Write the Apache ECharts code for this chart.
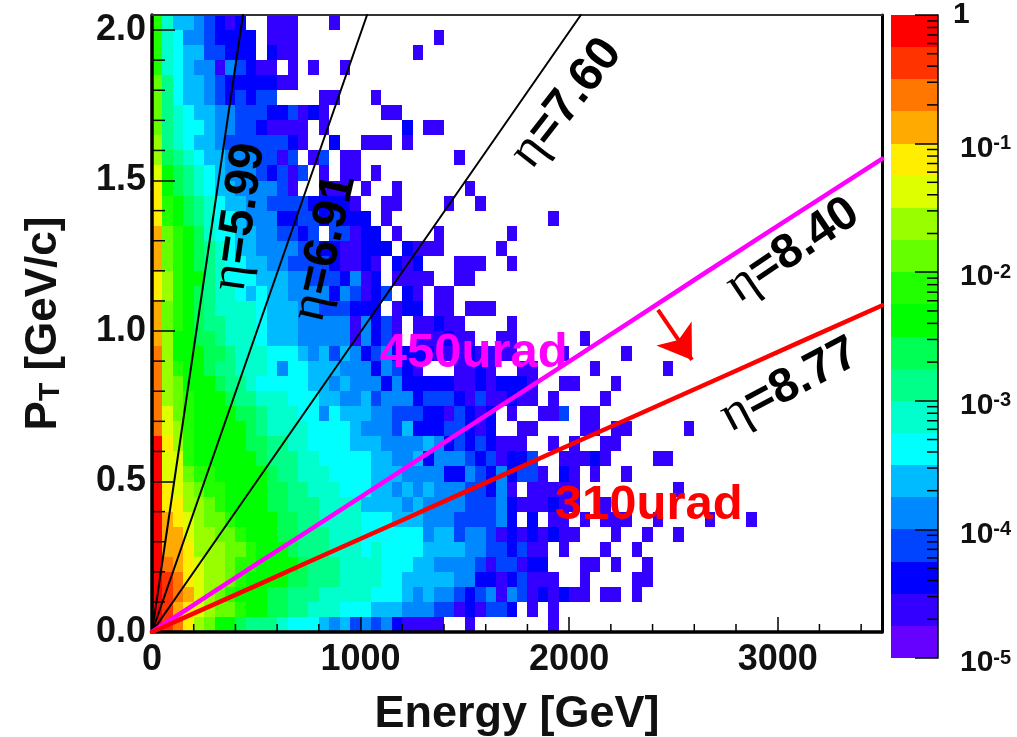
<!DOCTYPE html>
<html>
<head>
<meta charset="utf-8">
<script src="https://cdn.jsdelivr.net/npm/echarts@6/dist/echarts.min.js"></script>
<style>html,body{margin:0;padding:0;background:#fff}#c{width:1017px;height:737px}</style>
</head>
<body>
<div id="c"></div>
<script>
// Colour bands, lowest (1e-5) to highest (1): one letter per band, a..t
const bandCodes = 'abcdefghijklmnopqrst';
const bandColors = ['#6600ff','#3300ff','#0000ff','#0044ff','#0088ff','#00bbff','#00ffff','#00ffcc','#00ff88','#00ff55',
  '#00ff00','#22ff00','#66ff00','#99ff00','#ddff00','#ffee00','#ffaa00','#ff7700','#ff3300','#ff0000'];
// Cell grid: 50 GeV by 0.05 GeV/c. densityRows[0] is the pT 2.00-2.05 row, last is 0.00-0.05.
const binE = 50, binPt = 0.05;
const densityRows = [
 'lhffedcbc. .bbb...b..',
 'lhgeedcccc .bbb...... .......b',
 'lhgffddccc .cbb...... .....b',
 'lhgfeebedc bb.b.b..b.',
 'migffedccc ccbb',
 'migffedcdc dd....bb.. .b',
 'mihgffeedd dccdbcb... ..bb',
 'mihggfeedd cbbbb.b... ....c.bb',
 'nihgffeddd dddcb..c.. bbb.b',
 'njihgffeee ddbd.bd.bb .........b',
 'okjihgfeee dcdbd.b.bb .b',
 'pkjihgffee eedb..bbb. b..b......b',
 'plkjihgffe eddddccccb ..bb....b. .b',
 'plkjihggfe eeccddcdcc c.b....... ........b.',
 'qmlkjhggff eeddcd.ddb cc.b...b.. ....b',
 'qmlkjihgff eeeeddccbb ccc.cbbb.. ...b',
 'qmlkjihggf feeddddcbb cb.cbc...b bb..b',
 'pnlkkihggg fffeedddce bc.bbbb..b b',
 'pnlkjihhgf gffeeeeced bcd.cb.bb',
 'qmlkjihhhh gfffeedddc cc.bcc.bb. bbb',
 'qmlkjiihhh gfffeeeeeb ecdb.bbcbb ....b',
 'qnkkjjihhh gfffeeeeeb ecdb.bbbcb b..bb..... .b',
 'rnkkkjjihh hgggfefdfe cdeccccbbb cbbbb....b .....b',
 'rnlkkjiihh hgeggfffee ecedcb...b bcb..bb... ..b......b',
 'rnmkkkjiih gggggffefe eececcccc b bcbcccb..b b...b',
 'rnmlkkkjii hhhgggffee fdeeecdddc bdbbcbb.b. ...b',
 'romlkkkkjj ihhhggegff feedddccbd cbc.b..bbd .bb',
 'ronlkkkkkj ihhhhggggf eeedfcccdd cbc..bb... .bb.bb.... .b',
 'tpnlkkkkkj jiihhggggf ffeeeefecd cdcbbb..b. b..bb',
 'toolkkkkkk jiiihhgggg gffeefceee dcdbccd..b bbcb....bb',
 'toomllkkkk kjiihhhggg gfffeeeecc edcecddb.c b.b..b',
 'tponmllkkk kjjiihhhgg gffefefeee ddceb.bbbb b......... b',
 'tppnnmlkkk kjjiiihhhh ffffefeeee dddecbbbcb b..b',
 'tqponmmlkk kkjjiihhhh gggfffeeed dddec.c.bb .b.bbb..b. ...b...b',
 'tqqonnmmlk kkjjiiihhh ggggggeffd eedbcbcbcb b...b..b.. b',
 'tqqpnnnmml kkkjiiihhh ghggggffff eeddcdbb.b ...b..b',
 'trqponnmll kkkkjiiihh hhgggffeee edbddbcc.. .bb.b..b',
 'tsrponnmlk kkkjjiiihh hhggfffffe eccbcdbbb. .b....bb',
 'tsrqonmlkk kjjiiihhhh hgggfefeed cdebedbcbc bb.bb.b',
 'tsqponmmlk kjjiihhhgg gfffeeeddb cbddc.b.b',
 'tsrpnmkkji iihgggfefd edecbbbb.. b.......b'
];
// Axis ticks
const xMinorTicks = [200,400,600,800,1200,1400,1600,1800,2200,2400,2600,2800,3200,3400];
const yMinorTicks = [0.1,0.2,0.3,0.4,0.6,0.7,0.8,0.9,1.1,1.2,1.3,1.4,1.6,1.7,1.8,1.9];
const decades = [-5,-4,-3,-2,-1];
const decadeMultipliers = [2,3,4,5,6,7,8,9];
// Guide lines (E in GeV, pT in GeV/c)
const eta599 = [[0,0],[436,2.05]];
const eta691 = [[0,0],[1031,2.05]];
const eta760 = [[0,0],[2056,2.05]];
const line450 = [[0,0],[262,0.118],[502,0.226],[742,0.333],[981,0.440],[1221,0.548],[1461,0.657],[1668,0.750],[1988,0.893],[2307,1.037],[2627,1.182],[2946,1.325],[3500,1.572]];
const line310 = [[0,0],[262,0.081],[502,0.155],[742,0.230],[981,0.304],[1221,0.378],[1461,0.453],[1668,0.517],[1908,0.592],[2148,0.666],[2467,0.765],[2787,0.864],[3106,0.963],[3500,1.085]];
const arrowFrom = [2426,1.07], arrowTo = [2589,0.904];
// Annotations: text, E, pT, rotation, colour
const etaNotes = [['5.99',422,1.379,82],['6.91',829,1.276,77],['7.60',1989,1.757,52],['8.40',3073,1.269,34],['8.77',3058,0.82,28]];
const angleNotes = [['450urad',1543,0.925,'#ff00ff'],['310urad',2382,0.42,'#ff0000']];

const font = '"Liberation Sans", Arial, sans-serif';
const cells = [];
densityRows.forEach((row, r) => {
  const pt = (densityRows.length - 1 - r) * binPt;
  row.replace(/ /g, '').split('').forEach((ch, c) => {
    const level = bandCodes.indexOf(ch);
    if (level >= 0) cells.push([c * binE, pt, Math.pow(10, -5 + (level + 0.5) / 4)]);
  });
});
function colorOf(v) {
  const i = Math.floor((Math.log10(v) + 5) * 4);
  return bandColors[Math.max(0, Math.min(19, i))];
}
const cellSeries = {
  type: 'custom', z: 2, data: cells, silent: true, animation: false,
  encode: {x: 0, y: 1},
  renderItem: (p, api) => {
    const a = api.coord([api.value(0), api.value(1) + binPt]);
    const b = api.coord([api.value(0) + binE, api.value(1)]);
    const x = Math.round(a[0]), y = Math.round(a[1]);
    return {type: 'rect', shape: {x, y, width: Math.round(b[0]) - x, height: Math.round(b[1]) - y},
      style: {fill: colorOf(api.value(2))}};
  }
};
function minorSeries(vals, axisDim, len) {
  return {
    type: 'custom', z: 4, silent: true, animation: false, data: vals.map(v => [v]),
    encode: axisDim === 'x' ? {x: 0} : {y: 0},
    renderItem: (p, api) => {
      const v = api.value(0);
      const pt = api.coord(axisDim === 'x' ? [v, 0] : [0, v]);
      const sh = axisDim === 'x' ? {x1: pt[0], y1: pt[1], x2: pt[0], y2: pt[1] - len}
                                 : {x1: pt[0], y1: pt[1], x2: pt[0] + len, y2: pt[1]};
      return {type: 'line', shape: sh, style: {stroke: '#000', lineWidth: 1.5}};
    }
  };
}
function lineSeries(data, color, width) {
  return {type: 'line', z: 5, data, symbol: 'none', silent: true, animation: false, clip: true,
    lineStyle: {color, width, cap: 'round', join: 'round'}};
}
const etaLabels = {
  type: 'scatter', z: 6, symbolSize: 0, silent: true, animation: false, itemStyle: {opacity: 1},
  data: etaNotes.map(n => ({
    value: [n[1], n[2]],
    label: {show: true, position: 'inside', rotate: n[3], opacity: 1, formatter: '{e|\u03b7}{t|=' + n[0] + '}',
      rich: {e: {fontFamily: '"Liberation Serif", serif', fontSize: 52, color: '#000'},
             t: {fontFamily: font, fontWeight: 'bold', fontSize: 48, color: '#000'}}}
  }))
};
const angleLabels = {
  type: 'scatter', z: 6, symbolSize: 0, silent: true, animation: false, itemStyle: {opacity: 1},
  data: angleNotes.map(n => ({
    value: [n[1], n[2]],
    label: {show: true, position: 'inside', opacity: 1, formatter: n[0], fontFamily: font, fontWeight: 'bold', fontSize: 49, color: n[3]}
  }))
};
const arrowSeries = {
  type: 'line', z: 5, data: [], silent: true, animation: false,
  markLine: {silent: true, animation: false, symbol: ['none', 'arrow'], symbolSize: 32, label: {show: false},
    lineStyle: {color: '#ff0000', width: 4, type: 'solid'},
    data: [[{coord: arrowFrom}, {coord: arrowTo}]]}
};
// Colour bar
const barBands = bandColors.map((col, i) => [i, col]);
const barSeries = {
  type: 'custom', xAxisIndex: 2, yAxisIndex: 2, z: 2, silent: true, animation: false, data: barBands.map(b => [b[0]]),
  encode: {y: 0},
  renderItem: (p, api) => {
    const i = api.value(0);
    const a = api.coord([0, -5 + (i + 1) / 4]);
    const b = api.coord([1, -5 + i / 4]);
    const y = Math.round(a[1]);
    return {type: 'rect', shape: {x: a[0], y, width: b[0] - a[0], height: Math.round(b[1]) - y},
      style: {fill: bandColors[i]}};
  }
};
const barMinor = [];
decades.forEach(d => decadeMultipliers.forEach(m => barMinor.push([d + Math.log10(m)])));
const barMinorSeries = {
  type: 'custom', xAxisIndex: 2, yAxisIndex: 2, z: 4, silent: true, animation: false, data: barMinor,
  encode: {y: 0},
  renderItem: (p, api) => {
    const pt = api.coord([1, api.value(0)]);
    return {type: 'line', shape: {x1: pt[0], y1: pt[1], x2: pt[0] - 11, y2: pt[1]}, style: {stroke: '#000', lineWidth: 1.5}};
  }
};
const blank = {show: false};
const option = {
  animation: false,
  backgroundColor: '#fff',
  grid: [
    {left: 152, top: 15, width: 730, height: 617, containLabel: false, outerBoundsMode: 'none'},
    {left: 891, top: 15, width: 47, height: 643, containLabel: false, outerBoundsMode: 'none'}
  ],
  xAxis: [
    {type: 'value', min: 0, max: 3500, interval: 1000, z: 4, position: 'bottom',
     axisLine: {show: true, onZero: false, lineStyle: {color: '#000', width: 3.5}},
     axisTick: {show: true, inside: true, length: 15, lineStyle: {color: '#000', width: 1.5}},
     splitLine: blank,
     axisLabel: {color: '#111', fontFamily: font, fontWeight: 'bold', fontSize: 36, margin: 10, showMaxLabel: false,
       formatter: v => String(v)},
     name: 'Energy [GeV]', nameLocation: 'middle', nameGap: 60,
     nameTextStyle: {color: '#111', fontFamily: font, fontWeight: 'bold', fontSize: 45}},
    {type: 'value', min: 0, max: 3500, gridIndex: 0, position: 'top', z: 4,
     axisLine: {show: true, onZero: false, lineStyle: {color: '#333', width: 2}}, axisTick: blank, axisLabel: blank, splitLine: blank},
    {type: 'value', min: 0, max: 1, gridIndex: 1, show: false}
  ],
  yAxis: [
    {type: 'value', min: 0, max: 2.05, interval: 0.5, z: 4, position: 'left',
     axisLine: {show: true, onZero: false, lineStyle: {color: '#000', width: 3.5}},
     axisTick: {show: true, inside: true, length: 23, lineStyle: {color: '#000', width: 1.5}},
     splitLine: blank,
     axisLabel: {color: '#111', fontFamily: font, fontWeight: 'bold', fontSize: 36, margin: 6, showMaxLabel: false,
       formatter: v => v.toFixed(1)},
     name: '{p|P}{s|T}{p| [GeV/c]}', nameLocation: 'middle', nameGap: 86, nameRotate: 90,
     nameTextStyle: {rich: {
       p: {color: '#111', fontFamily: font, fontWeight: 'bold', fontSize: 44},
       s: {color: '#111', fontFamily: font, fontWeight: 'bold', fontSize: 30, verticalAlign: 'bottom'}}}},
    {type: 'value', min: 0, max: 2.05, gridIndex: 0, position: 'right', z: 4,
     axisLine: {show: true, onZero: false, lineStyle: {color: '#000', width: 3}}, axisTick: blank, axisLabel: blank, splitLine: blank},
    {type: 'value', min: -5, max: 0, interval: 1, gridIndex: 1, position: 'right', z: 4,
     axisLine: {show: true, onZero: false, lineStyle: {color: '#000', width: 1.5}},
     axisTick: {show: true, inside: true, length: 23, lineStyle: {color: '#000', width: 1.5}},
     splitLine: blank,
     axisLabel: {margin: 15, color: '#111',
       formatter: v => v === 0 ? '{one|1}' : '{d|10}{u|' + v + '}',
       padding: [10, 0, 0, 0],
       rich: {one: {fontFamily: font, fontWeight: 'bold', fontSize: 30, color: '#111', padding: [0, 0, 10, 0]},
              d: {fontFamily: font, fontWeight: 'bold', fontSize: 30, color: '#111', padding: [0, 0, 0, 7]},
              u: {fontFamily: font, fontWeight: 'bold', fontSize: 20, color: '#111', verticalAlign: 'top', padding: [0, 0, 8, 0]}}}}
  ],
  series: [
    cellSeries,
    minorSeries(xMinorTicks, 'x', 8),
    minorSeries(yMinorTicks, 'y', 13),
    lineSeries(eta599, '#000', 2),
    lineSeries(eta691, '#000', 2),
    lineSeries(eta760, '#000', 2),
    lineSeries(line450, '#ff00ff', 4.5),
    lineSeries(line310, '#ff0000', 4.5),
    arrowSeries,
    etaLabels,
    angleLabels,
    barSeries,
    barMinorSeries
  ]
};
const chart = echarts.init(document.getElementById('c'), null, {renderer: 'canvas'});
chart.setOption(option);
</script>
</body>
</html>
